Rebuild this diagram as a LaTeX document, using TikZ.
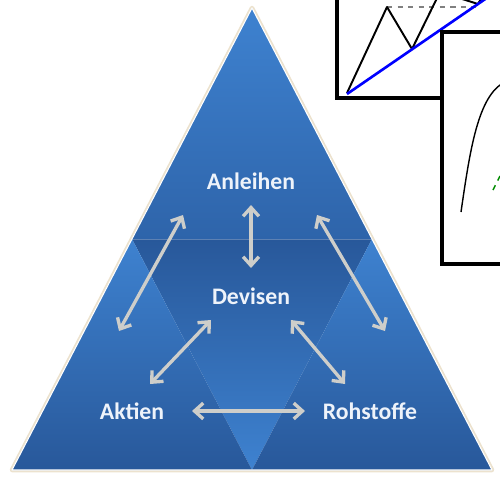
\documentclass[tikz,border=0pt]{standalone}
\usepackage{fontspec}
\setmainfont{Carlito}
\usepackage{tikz}
\usetikzlibrary{arrows.meta}
\definecolor{pyrlight}{RGB}{62,130,208}
\definecolor{pyrmid}{RGB}{46,100,170}
\definecolor{pyrdark}{RGB}{40,88,154}
\definecolor{arrowgray}{RGB}{206,206,202}
\definecolor{edgecream}{RGB}{236,226,206}
\definecolor{txtwhite}{RGB}{238,243,250}

\begin{document}
\begin{tikzpicture}[x=0.02cm, y=-0.02cm,
    lbl/.style={font=\fontsize{13.5}{16}\selectfont\bfseries, text=txtwhite, inner sep=1pt},
    dblarrow/.style={{Straight Barb[length=5pt,width=9pt]}-{Straight Barb[length=5pt,width=9pt]},
      line width=1.9pt, arrowgray}]
    %% pixel grid: 500 x 477, y downwards
    \useasboundingbox (0,0) rectangle (500,477);
    \clip (0,0) rectangle (500,477);

    % ---- PYRAMID ----
    \coordinate (apex) at (252,8);
    \coordinate (bl)   at (12,470);
    \coordinate (br)   at (492,470);
    \coordinate (ml)   at (132,239);
    \coordinate (mr)   at (372,239);
    \coordinate (mb)   at (252,470);
    \draw[edgecream, line width=2.6pt, line join=round] (apex) -- (bl) -- (br) -- cycle;
    \shade[top color=pyrlight, bottom color=pyrmid]  (apex) -- (ml) -- (mr) -- cycle;
    \shade[top color=pyrdark,  bottom color=pyrlight] (ml) -- (mr) -- (mb) -- cycle;
    \shade[top color=pyrlight, bottom color=pyrdark]  (ml) -- (bl) -- (mb) -- cycle;
    \shade[top color=pyrlight, bottom color=pyrdark]  (mr) -- (mb) -- (br) -- cycle;
    \draw[white, opacity=0.25, line width=0.5pt] (ml) -- (mr);
    \draw[white, line width=0.6pt, line join=round] (apex) -- (bl) -- (br) -- cycle;

    % ---- LABELS ----
    \node[lbl] (anleihen)  at (251,181) {Anleihen};
    \node[lbl] (devisen)   at (251,296) {Devisen};
    \node[lbl] (aktien)    at (132,411) {Aktien};
    \node[lbl] (rohstoffe) at (370,411) {Rohstoffe};

    % ---- ARROWS ----
    \coordinate (anl-s)  at (251,205);
    \coordinate (dev-n)  at (251,268);
    \coordinate (anl-sw) at (183,215);
    \coordinate (akt-n)  at (119,331);
    \coordinate (anl-se) at (317,215);
    \coordinate (roh-n)  at (385,331);
    \coordinate (dev-sw) at (211,320);
    \coordinate (akt-ne) at (150,384);
    \coordinate (dev-se) at (291,320);
    \coordinate (roh-nw) at (345,384);
    \coordinate (akt-e)  at (192,411);
    \coordinate (roh-w)  at (305,411);
    \draw[dblarrow] (anl-s)  -- (dev-n);
    \draw[dblarrow] (anl-sw) -- (akt-n);
    \draw[dblarrow] (anl-se) -- (roh-n);
    \draw[dblarrow] (dev-sw) -- (akt-ne);
    \draw[dblarrow] (dev-se) -- (roh-nw);
    \draw[dblarrow] (akt-e)  -- (roh-w);

    % ---- CHART INSETS ----
    \filldraw[fill=white, draw=black, line width=1.8pt] (337,-20) rectangle (520,98);
    \draw[gray, dashed, line width=0.7pt] (387,7) -- (476,7);
    \draw[black, line width=1.1pt, line join=round]
      (347,93) -- (387,7) -- (412,49) -- (440,-8) -- (478,4) -- (492,-20);
    \draw[blue, line width=1.5pt] (347,94) -- (510,-18);

    \filldraw[fill=white, draw=black, line width=1.8pt] (442,32) rectangle (520,264);
    \draw[black, line width=0.8pt] (461,212) .. controls (470,150) and (478,95) .. (505,82);
    \draw[green!55!black, dashed, line width=0.8pt] (493,190) -- (500,176);

  \end{tikzpicture}
\end{document}
